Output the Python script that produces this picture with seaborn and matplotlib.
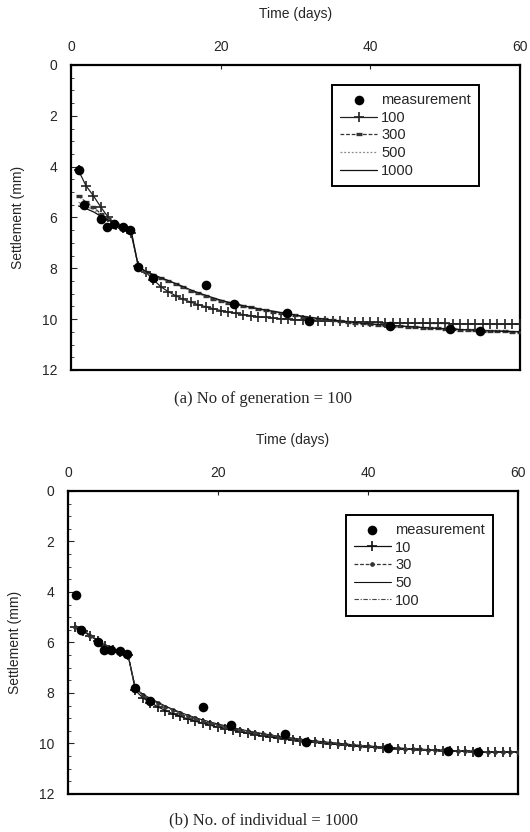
import numpy as np
import pandas as pd
import matplotlib
matplotlib.use("Agg")
import matplotlib.pyplot as plt
import seaborn as sns
from matplotlib.ticker import MultipleLocator

# ---------------- data ----------------
model_days = list(range(1, 61))

meas_days = [1.1, 1.8, 4.0, 4.85, 5.8, 6.9, 7.9, 8.9, 10.9, 18.0, 21.8, 28.9, 31.8, 42.7, 50.7, 54.7]
meas_top = [4.15, 5.5, 6.05, 6.37, 6.27, 6.37, 6.5, 7.95, 8.37, 8.64, 9.39, 9.76, 10.07, 10.26, 10.39, 10.46]
meas_bot = [4.12, 5.49, 6.0, 6.3, 6.3, 6.33, 6.46, 7.82, 8.33, 8.55, 9.27, 9.64, 9.96, 10.16, 10.29, 10.33]

gen100 = [4.15, 4.75, 5.15, 5.6, 6.0, 6.3, 6.4, 6.6, 7.9, 8.15,
          8.45, 8.72, 8.92, 9.08, 9.22, 9.33, 9.43, 9.51, 9.59, 9.66,
          9.72, 9.77, 9.82, 9.86, 9.9, 9.93, 9.96, 9.98, 10.0, 10.02,
          10.04, 10.05, 10.06, 10.07, 10.08, 10.09, 10.1, 10.11, 10.12, 10.13,
          10.13, 10.14, 10.14, 10.15, 10.15, 10.16, 10.16, 10.17, 10.17, 10.17,
          10.18, 10.18, 10.18, 10.19, 10.19, 10.19, 10.19, 10.2, 10.2, 10.2]
gen300 = [5.15, 5.4, 5.6, 5.85, 6.05, 6.25, 6.35, 6.45, 7.95, 8.15,
          8.28, 8.4, 8.5, 8.62, 8.75, 8.88, 8.99, 9.09, 9.19, 9.27,
          9.35, 9.42, 9.48, 9.54, 9.6, 9.65, 9.7, 9.75, 9.8, 9.85,
          9.9, 9.94, 9.98, 10.01, 10.05, 10.08, 10.11, 10.14, 10.17, 10.2,
          10.22, 10.24, 10.26, 10.28, 10.3, 10.31, 10.33, 10.35, 10.36, 10.38,
          10.39, 10.41, 10.42, 10.43, 10.45, 10.46, 10.47, 10.48, 10.49, 10.5]
gen500 = [5.4, 5.55, 5.7, 5.9, 6.08, 6.27, 6.37, 6.47, 7.95, 8.13,
          8.26, 8.38, 8.49, 8.61, 8.73, 8.86, 8.97, 9.07, 9.17, 9.26,
          9.34, 9.41, 9.47, 9.53, 9.59, 9.64, 9.69, 9.74, 9.79, 9.84,
          9.89, 9.93, 9.97, 10.0, 10.04, 10.07, 10.1, 10.13, 10.16, 10.19,
          10.21, 10.23, 10.25, 10.27, 10.29, 10.31, 10.33, 10.34, 10.36, 10.37,
          10.39, 10.4, 10.42, 10.43, 10.44, 10.45, 10.46, 10.47, 10.48, 10.49]
gen1000 = [5.55, 5.65, 5.78, 5.95, 6.1, 6.28, 6.38, 6.48, 7.93, 8.12,
           8.25, 8.37, 8.48, 8.6, 8.72, 8.85, 8.96, 9.06, 9.16, 9.25,
           9.33, 9.4, 9.47, 9.53, 9.59, 9.64, 9.69, 9.74, 9.79, 9.84,
           9.89, 9.93, 9.97, 10.0, 10.04, 10.07, 10.1, 10.13, 10.16, 10.19,
           10.21, 10.23, 10.25, 10.27, 10.29, 10.31, 10.33, 10.35, 10.36, 10.38,
           10.39, 10.41, 10.42, 10.43, 10.45, 10.46, 10.47, 10.48, 10.49, 10.5]

ind10 = [5.4, 5.55, 5.75, 5.95, 6.15, 6.3, 6.38, 6.5, 7.9, 8.2,
         8.38, 8.55, 8.7, 8.82, 8.93, 9.03, 9.12, 9.2, 9.28, 9.35,
         9.42, 9.48, 9.54, 9.6, 9.65, 9.7, 9.75, 9.79, 9.83, 9.87,
         9.9, 9.93, 9.96, 9.99, 10.02, 10.04, 10.07, 10.09, 10.11, 10.13,
         10.15, 10.17, 10.19, 10.2, 10.22, 10.23, 10.24, 10.26, 10.27, 10.28,
         10.29, 10.3, 10.31, 10.32, 10.33, 10.33, 10.34, 10.34, 10.35, 10.35]
ind30 = [5.38, 5.53, 5.73, 5.93, 6.13, 6.28, 6.36, 6.48, 7.85, 8.08,
         8.25, 8.4, 8.55, 8.68, 8.8, 8.91, 9.01, 9.1, 9.18, 9.26,
         9.33, 9.4, 9.46, 9.52, 9.58, 9.63, 9.68, 9.73, 9.77, 9.81,
         9.85, 9.89, 9.92, 9.95, 9.98, 10.01, 10.04, 10.06, 10.09, 10.11,
         10.13, 10.15, 10.17, 10.19, 10.2, 10.22, 10.23, 10.25, 10.26, 10.27,
         10.28, 10.29, 10.3, 10.31, 10.32, 10.33, 10.33, 10.34, 10.34, 10.35]
ind50 = [5.36, 5.52, 5.72, 5.92, 6.12, 6.27, 6.35, 6.47, 7.83, 8.05,
         8.22, 8.37, 8.52, 8.65, 8.77, 8.88, 8.98, 9.07, 9.15, 9.23,
         9.3, 9.37, 9.44, 9.5, 9.56, 9.61, 9.66, 9.71, 9.75, 9.79,
         9.83, 9.87, 9.9, 9.93, 9.96, 9.99, 10.02, 10.05, 10.08, 10.1,
         10.12, 10.14, 10.16, 10.18, 10.2, 10.21, 10.23, 10.24, 10.25, 10.27,
         10.28, 10.29, 10.3, 10.31, 10.32, 10.32, 10.33, 10.34, 10.34, 10.35]
ind100 = [5.37, 5.53, 5.73, 5.93, 6.12, 6.28, 6.36, 6.48, 7.84, 8.07,
          8.24, 8.39, 8.54, 8.67, 8.79, 8.9, 9.0, 9.09, 9.17, 9.25,
          9.32, 9.39, 9.45, 9.51, 9.57, 9.62, 9.67, 9.72, 9.76, 9.8,
          9.84, 9.88, 9.91, 9.94, 9.97, 10.0, 10.03, 10.05, 10.08, 10.1,
          10.12, 10.14, 10.16, 10.18, 10.2, 10.21, 10.23, 10.24, 10.26, 10.27,
          10.28, 10.29, 10.3, 10.31, 10.32, 10.33, 10.33, 10.34, 10.34, 10.35]

top_labels = ["100", "300", "500", "1000"]
bot_labels = ["10", "30", "50", "100"]
x_ticks = [0, 20, 40, 60]
y_ticks = [0, 2, 4, 6, 8, 10, 12]

# ---------------- style ----------------
sns.set_style("white")
plt.rcParams["font.family"] = ["Liberation Sans", "DejaVu Sans"]

fig = plt.figure(figsize=(5.30, 8.32), dpi=100)
ax_top = fig.add_axes([0.134, 0.5553, 0.847, 0.3666])
ax_bot = fig.add_axes([0.1283, 0.0457, 0.849, 0.3642])

top_styles = [
    dict(color="#222222", linestyle="-", linewidth=0.9, marker="+", markersize=6.5, markeredgewidth=1.2),
    dict(color="#333333", linestyle=(0, (3, 1.5)), linewidth=0.9, marker="_", markersize=4.5, markeredgewidth=2.4),
    dict(color="#8a8a8a", linestyle=(0, (1.5, 1.5)), linewidth=0.9, marker="None"),
    dict(color="#111111", linestyle="-", linewidth=0.9, marker="None"),
]
bot_styles = [
    dict(color="#111111", linestyle="-", linewidth=0.9, marker="+", markersize=7.5, markeredgewidth=1.2),
    dict(color="#333333", linestyle=(0, (3, 1.5)), linewidth=0.9, marker="o", markersize=2.8, markeredgewidth=0.5),
    dict(color="#111111", linestyle="-", linewidth=0.8, marker="None"),
    dict(color="#444444", linestyle=(0, (4, 1.5, 1, 1.5)), linewidth=0.8, marker="None"),
]


def draw_panel(ax, meas_y, series, labels, styles, legend_anchor):
    sns.scatterplot(x=meas_days, y=meas_y, ax=ax, color="black", s=48,
                    edgecolor="black", linewidth=0, label="measurement", zorder=5)
    for vals, lab, st in zip(series, labels, styles):
        n_before = len(ax.lines)
        sns.lineplot(x=model_days, y=vals, ax=ax, label=lab, sort=False,
                     estimator=None, color=st["color"])
        ln = ax.lines[n_before]
        ln.set_linestyle(st["linestyle"])
        ln.set_linewidth(st["linewidth"])
        ln.set_marker(st["marker"])
        if st["marker"] != "None":
            ln.set_markersize(st["markersize"])
            ln.set_markeredgewidth(st["markeredgewidth"])
            ln.set_markeredgecolor(st["color"])
            ln.set_markerfacecolor(st["color"])
        ln.set_zorder(3)
    ax.set_xlim(0, 60)
    ax.set_ylim(12, 0)
    ax.set_xticks(x_ticks)
    ax.set_yticks(y_ticks)
    ax.yaxis.set_minor_locator(MultipleLocator(0.5))
    ax.xaxis.tick_top()
    ax.xaxis.set_label_position("top")
    ax.tick_params(axis="x", which="major", direction="in", length=3, width=0.8,
                   labelsize=10, pad=8, top=True, bottom=False)
    ax.tick_params(axis="y", which="major", direction="in", length=4, width=0.8,
                   labelsize=10, pad=10, left=True, right=False)
    ax.tick_params(axis="y", which="minor", direction="in", length=2, width=0.6,
                   left=True, right=False)
    for sp in ax.spines.values():
        sp.set_visible(True)
        sp.set_color("black")
        sp.set_linewidth(1.6)
    ax.set_xlabel("Time (days)", fontsize=10, labelpad=16)
    ax.set_ylabel("Settlement (mm)", fontsize=10, labelpad=12)
    handles, labs = ax.get_legend_handles_labels()
    leg = ax.legend(handles, labs, loc="upper right", bbox_to_anchor=legend_anchor,
                    borderaxespad=0, frameon=True, fancybox=False,
                    edgecolor="black", framealpha=1,
                    fontsize=10.5, handlelength=2.5, handletextpad=0.3,
                    labelspacing=0.25, borderpad=0.55, numpoints=1)
    leg.get_frame().set_linewidth(1.4)


draw_panel(ax_top, meas_top, [gen100, gen300, gen500, gen1000], top_labels,
           top_styles, (0.909, 0.934))
draw_panel(ax_bot, meas_bot, [ind10, ind30, ind50, ind100], bot_labels,
           bot_styles, (0.944, 0.921))

fig.text(0.497, 0.521, "(a) No of generation = 100", ha="center", va="center",
         fontsize=12, family=["Liberation Serif", "DejaVu Serif"])
fig.text(0.497, 0.014, "(b) No. of individual = 1000", ha="center", va="center",
         fontsize=12, family=["Liberation Serif", "DejaVu Serif"])

fig.savefig("out.png", dpi=100)
